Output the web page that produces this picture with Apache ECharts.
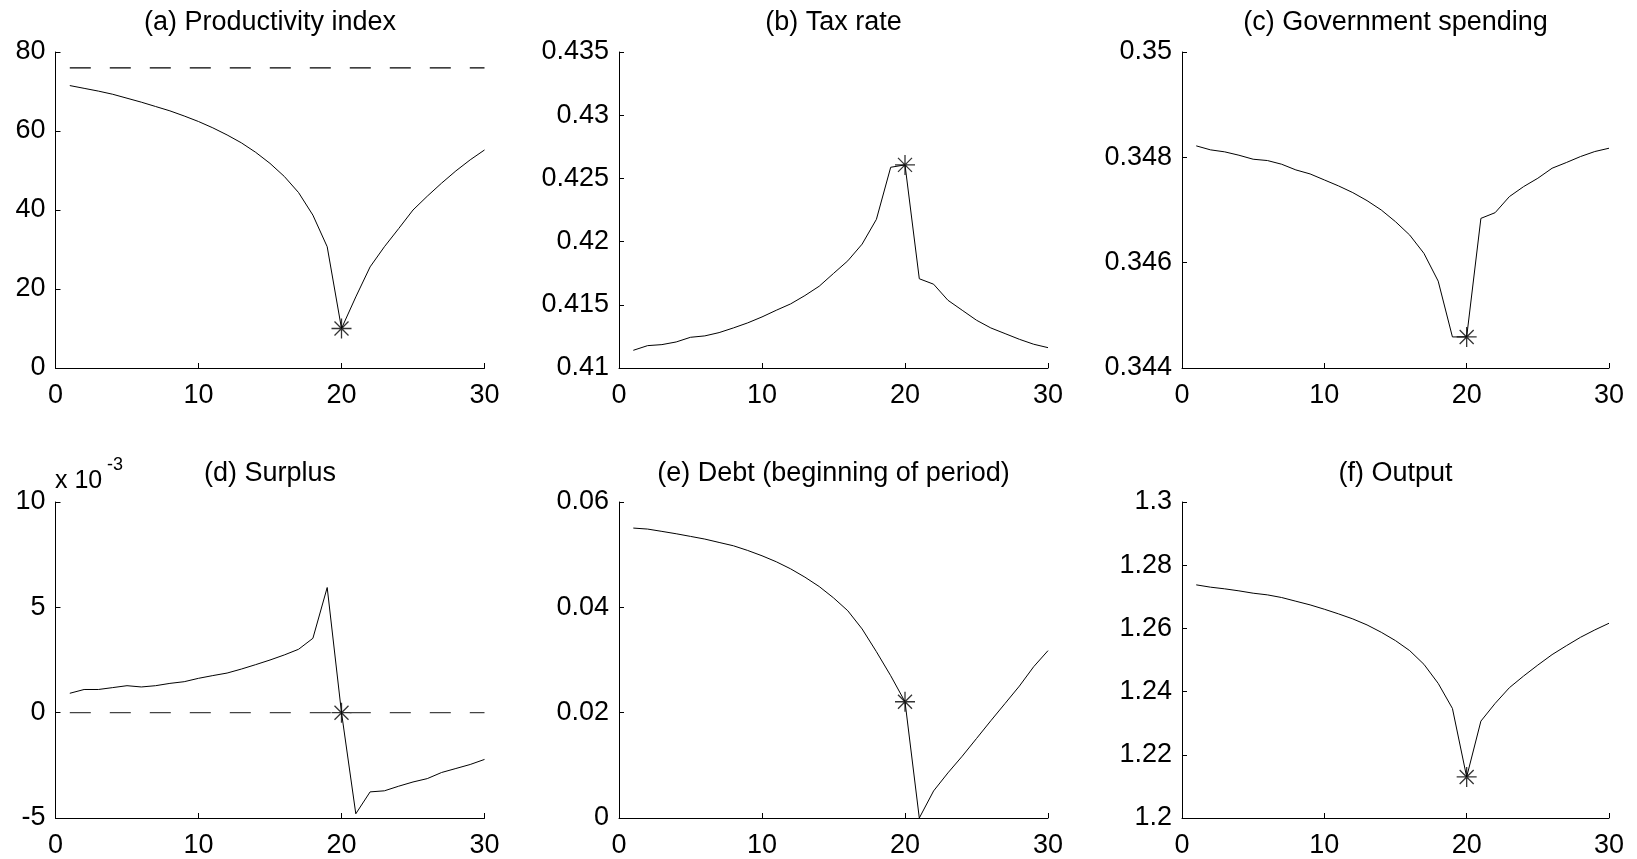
<!DOCTYPE html>
<html>
<head>
<meta charset="utf-8">
<script src="https://cdn.jsdelivr.net/npm/echarts@6/dist/echarts.min.js"></script>
<style>
html,body{margin:0;padding:0;background:#fff;}
#chart{width:1637px;height:859px;}
</style>
</head>
<body>
<div id="chart"></div>
<script>
// ---- data ----
const periods = [1,2,3,4,5,6,7,8,9,10,11,12,13,14,15,16,17,18,19,20,21,22,23,24,25,26,27,28,29,30];
const shockPeriod = 20;

const productivity = [71.5,70.8,70.1,69.3,68.3,67.3,66.2,65.1,63.8,62.4,60.8,59.0,57.0,54.6,51.8,48.5,44.4,38.7,30.7,10.0,18.0,25.6,30.7,35.3,40.0,43.5,46.8,49.9,52.7,55.2];
const productivityRef = 76;

const taxRate = [0.41140,0.41177,0.41185,0.41206,0.41243,0.41254,0.41280,0.41317,0.41357,0.41404,0.41457,0.41507,0.41573,0.41647,0.41748,0.41848,0.41980,0.42176,0.42588,0.42607,0.41706,0.41663,0.41536,0.41457,0.41378,0.41317,0.41272,0.41227,0.41188,0.41161];

const govSpending = [0.348218,0.348142,0.348104,0.348040,0.347964,0.347939,0.347869,0.347761,0.347685,0.347571,0.347457,0.347330,0.347178,0.347000,0.346778,0.346524,0.346176,0.345649,0.344590,0.344590,0.346841,0.346949,0.347254,0.347444,0.347603,0.347793,0.347901,0.348015,0.348110,0.348173];

// surplus in units of 10^-3
const surplusE3 = [0.92,1.10,1.10,1.19,1.28,1.22,1.28,1.39,1.47,1.63,1.76,1.88,2.07,2.28,2.50,2.74,3.01,3.53,5.94,0.0,-4.80,-3.76,-3.71,-3.49,-3.29,-3.13,-2.84,-2.65,-2.46,-2.22];
const surplusRef = 0;

const debt = [0.05505,0.05486,0.05442,0.05397,0.05347,0.05296,0.05232,0.05169,0.05080,0.04979,0.04865,0.04731,0.04573,0.04395,0.04180,0.03935,0.03590,0.03158,0.02702,0.02207,0.0,0.00514,0.00856,0.01173,0.01509,0.01846,0.02175,0.02505,0.02873,0.03178];

const output = [1.27378,1.27305,1.27252,1.27188,1.27114,1.27061,1.26977,1.26860,1.26744,1.26607,1.26459,1.26300,1.26110,1.25877,1.25613,1.25296,1.24863,1.24260,1.23467,1.21300,1.23066,1.23626,1.24123,1.24493,1.24840,1.25170,1.25450,1.25719,1.25951,1.26163];

const titles = ['(a) Productivity index','(b) Tax rate','(c) Government spending','(d) Surplus','(e) Debt (beginning of period)','(f) Output'];
const yMin = [0, 0.41, 0.344, -5, 0, 1.2];
const yMax = [80, 0.435, 0.35, 10, 0.06, 1.3];
const yStep = [20, 0.005, 0.002, 5, 0.02, 0.02];
const xTicks = [0, 10, 20, 30];

// ---- layout ----
const FONT = 'Liberation Sans, Arial, Helvetica, sans-serif';
const FS = 27;
const colLeft = [55.5, 619, 1182];
const colWidth = [429, 429, 427];
const rowTop = [52, 502];
const plotH = 316;

const seriesVals = [productivity, taxRate, govSpending, surplusE3, debt, output];

const grids = [], xAxes = [], yAxes = [], series = [], titleComps = [];
for (let i = 0; i < 6; i++) {
  const c = i % 3, r = Math.floor(i / 3);
  grids.push({left: colLeft[c], top: rowTop[r], width: colWidth[c], height: plotH, containLabel: false});
  xAxes.push({
    type: 'value', gridIndex: i, min: xTicks[0], max: xTicks[xTicks.length-1], interval: 10,
    axisLine: {show: true, onZero: false, lineStyle: {color: '#000', width: 1}},
    axisTick: {show: true, inside: true, length: 5, lineStyle: {color: '#000'}},
    splitLine: {show: false},
    axisLabel: {color: '#000', fontSize: FS, fontFamily: FONT, margin: 14}
  });
  yAxes.push({
    type: 'value', gridIndex: i, min: yMin[i], max: yMax[i], interval: yStep[i],
    axisLine: {show: true, onZero: false, lineStyle: {color: '#000', width: 1}},
    axisTick: {show: true, inside: true, length: 5, lineStyle: {color: '#000'}},
    splitLine: {show: false},
    axisLabel: {color: '#000', fontSize: FS, fontFamily: FONT, margin: 10,
      formatter: v => String(+v.toFixed(6))}
  });
  const vals = seriesVals[i];
  series.push({
    type: 'line', xAxisIndex: i, yAxisIndex: i, showSymbol: false, silent: true,
    data: periods.map((p, k) => [p, vals[k]]),
    lineStyle: {color: '#000', width: 1}, animation: false
  });
  const k = periods.indexOf(shockPeriod);
  series.push({
    type: 'scatter', xAxisIndex: i, yAxisIndex: i, silent: true, animation: false,
    symbol: 'path://M10,0L10,20M0,10L20,10M3,3L17,17M3,17L17,3',
    symbolSize: 20,
    itemStyle: {color: 'transparent', borderColor: '#000', borderWidth: 1.3},
    data: [[shockPeriod, vals[k]]]
  });
  titleComps.push({
    text: titles[i], left: colLeft[c] + colWidth[c] / 2, top: r === 0 ? 9 : 460,
    textAlign: 'center', padding: 0,
    textStyle: {fontSize: FS, fontWeight: 'normal', color: '#000', fontFamily: FONT}
  });
}
// reference dashed lines
series.push({
  type: 'line', xAxisIndex: 0, yAxisIndex: 0, showSymbol: false, silent: true, animation: false,
  data: [[periods[0], productivityRef], [periods[periods.length-1], productivityRef]],
  lineStyle: {color: '#000', width: 1.2, type: [21, 19]}
});
series.push({
  type: 'line', xAxisIndex: 3, yAxisIndex: 3, showSymbol: false, silent: true, animation: false,
  data: [[periods[0], surplusRef], [periods[periods.length-1], surplusRef]],
  lineStyle: {color: '#444', width: 1.2, type: [21, 19]}
});

const chart = echarts.init(document.getElementById('chart'), null, {renderer: 'canvas'});
chart.setOption({
  backgroundColor: '#fff',
  animation: false,
  title: titleComps,
  grid: grids,
  xAxis: xAxes,
  yAxis: yAxes,
  series: series,
  graphic: [
    {type: 'text', left: 55, top: 469, style: {text: 'x 10', fontSize: 25, fontFamily: FONT, fill: '#000'}},
    {type: 'text', left: 107, top: 456, style: {text: '-3', fontSize: 18, fontFamily: FONT, fill: '#000'}}
  ]
});
</script>
</body>
</html>
